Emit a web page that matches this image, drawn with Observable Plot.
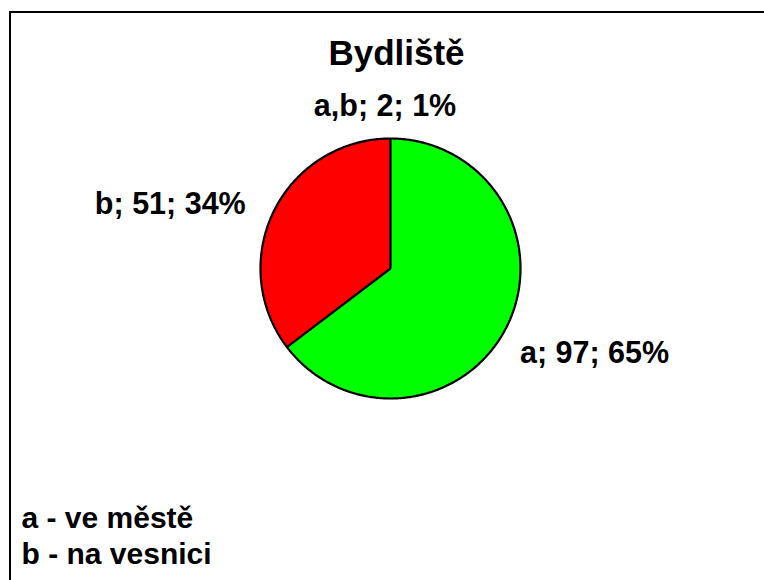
<!DOCTYPE html>
<html><head><meta charset="utf-8">
<script src="https://cdn.jsdelivr.net/npm/d3@7"></script>
<script src="https://cdn.jsdelivr.net/npm/@observablehq/plot@0.6"></script>
<style>
body{margin:0;background:#fff;}
#wrap{position:relative;width:764px;height:580px;overflow:hidden;background:#fff;}
#frame{position:absolute;left:9px;top:11px;width:900px;height:900px;border-left:2.5px solid #000;border-top:2.5px solid #000;box-sizing:border-box;}
#chart{position:absolute;left:0;top:0;}
</style></head><body>
<div id="wrap"><div id="frame"></div><div id="chart"></div></div>
<script>
const categories = ["a", "b", "a,b"];
const counts = [97, 51, 2];
const percents = [65, 34, 1];
const sliceColors = ["#00ff00", "#ff0000", "#ff0000"];
const titleText = "Bydliště";
const legendLines = ["a - ve městě", "b - na vesnici"];

const total = d3.sum(counts);
let cum = 0;
const slices = categories.map((c, i) => {
  const a0 = cum / total * 2 * Math.PI;
  cum += counts[i];
  const a1 = cum / total * 2 * Math.PI;
  return {cat: c, count: counts[i], pct: percents[i], color: sliceColors[i], a0, a1, mid: (a0 + a1) / 2};
});

const slicePts = [];
for (const s of slices) {
  slicePts.push({cat: s.cat, color: s.color, x: 0, y: 0});
  const n = Math.max(2, Math.ceil((s.a1 - s.a0) / (Math.PI / 360)));
  for (let k = 0; k <= n; k++) {
    const t = s.a0 + (s.a1 - s.a0) * k / n;
    slicePts.push({cat: s.cat, color: s.color, x: Math.sin(t), y: Math.cos(t)});
  }
  slicePts.push({cat: s.cat, color: s.color, x: 0, y: 0});
}
const circlePts = d3.range(0, 721).map(k => {
  const t = k / 720 * 2 * Math.PI;
  return {x: Math.sin(t), y: Math.cos(t)};
});
// radial edges only where the colour changes
const radii = slices.filter((s, i) => s.color !== slices[(i - 1 + slices.length) % slices.length].color)
  .map(s => ({x1: 0, y1: 0, x2: Math.sin(s.a0), y2: Math.cos(s.a0)}));

const labels = slices.map(s => ({
  cat: s.cat, x: Math.sin(s.mid), y: Math.cos(s.mid),
  text: `${s.cat}; ${s.count}; ${s.pct}%`
}));

const font = "'Liberation Sans', Arial, Helvetica, sans-serif";
const labelStyle = {x: "x", y: "y", text: "text", fontSize: 30.5, fontWeight: "bold", fill: "#000", lineAnchor: "middle"};

const chart = Plot.plot({
  width: 764, height: 580, margin: 0,
  x: {domain: [-1, 1], range: [260, 520], axis: null},
  y: {domain: [-1, 1], range: [398, 138], axis: null},
  color: {type: "identity"},
  style: {background: "transparent", fontFamily: font, overflow: "visible"},
  marks: [
    Plot.line(slicePts, {x: "x", y: "y", z: "cat", fill: "color", stroke: "color", strokeWidth: 1, curve: "linear-closed"}),
    Plot.line(circlePts, {x: "x", y: "y", stroke: "#000", strokeWidth: 2.2}),
    Plot.link(radii, {x1: "x1", y1: "y1", x2: "x2", y2: "y2", stroke: "#000", strokeWidth: 2.2}),
    Plot.text(labels.filter(d => d.cat === "a"), {...labelStyle, textAnchor: "start", dx: 13, dy: 27}),
    Plot.text(labels.filter(d => d.cat === "b"), {...labelStyle, textAnchor: "end", dx: -26, dy: -11.5}),
    Plot.text(labels.filter(d => d.cat === "a,b"), {...labelStyle, textAnchor: "middle", dx: 0, dy: -32.5}),
    Plot.text([titleText], {frameAnchor: "top-left", text: d => d, dx: 396, dy: 53, textAnchor: "middle", lineAnchor: "middle", fontSize: 35, fontWeight: "bold", fill: "#000"}),
    Plot.text([legendLines.join("\n")], {frameAnchor: "top-left", text: d => d, dx: 21, dy: 563, textAnchor: "start", lineAnchor: "bottom", lineHeight: 36 / 30, fontSize: 30, fontWeight: "bold", fill: "#000"})
  ]
});
document.getElementById("chart").appendChild(chart);
</script>
</body></html>
